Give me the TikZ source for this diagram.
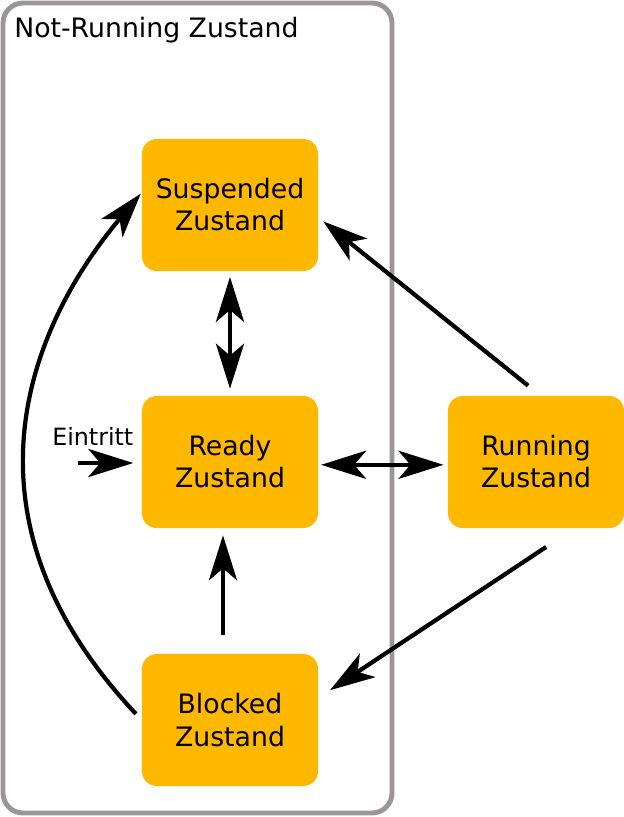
\documentclass[tikz,border=0pt]{standalone}
\usepackage{fontspec}
\setmainfont{DejaVu Sans}
\usetikzlibrary{positioning, arrows.meta, calc}
\definecolor{zorange}{HTML}{FFB800}
\definecolor{zgray}{HTML}{9A9696}
\definecolor{zblack}{HTML}{000000}

\begin{document}
\begin{tikzpicture}[x=0.025cm, y=-0.025cm,
    zbox/.style={fill=zorange, rounded corners=0.37cm, minimum width=4.4cm,
      minimum height=3.3cm, align=center, font=\fontsize{19}{22.8}\selectfont},
    zarrow/.style={zblack, line width=3pt,
      -{Stealth[length=32pt, width=20pt, inset=8.5pt]}},
    zboth/.style={zarrow, {Stealth[length=32pt, width=20pt, inset=8.5pt]}-{Stealth[length=32pt, width=20pt, inset=8.5pt]}}]
    \useasboundingbox (0,0) rectangle (624,817);
    % Rahmen: Not-Running
    \draw[zgray, line width=3.5pt, rounded corners=0.5cm] (3,3) rectangle (392,813);
    \node[anchor=base west, inner sep=0pt, font=\fontsize{19}{22.8}\selectfont]
      (title) at (14,37) {Not-Running Zustand};
    % Zustaende
    \node[zbox] (susp) at (230,205) {Suspended\\Zustand};
    \node[zbox] (ready) at (230,462) {Ready\\Zustand};
    \node[zbox] (blocked) at (230,720) {Blocked\\Zustand};
    \node[zbox] (running) at (536,462) {Running\\Zustand};
    % Eintritt
    \node[anchor=base west, inner sep=0pt, font=\fontsize{16.9}{20}\selectfont]
      (entry) at (52,445) {Eintritt};
    \coordinate (entrystart) at (78,463);
    % Uebergaenge
    \draw[zarrow, shorten >=6pt] (entrystart) -- (ready.west |- entrystart);
    \draw[zboth, shorten <=4pt, shorten >=5pt] (susp.south) -- (ready.north);
    \draw[zboth, shorten <=2pt, shorten >=3pt]
      ([yshift=-2pt]ready.east) -- ([yshift=-2pt]running.west);
    \draw[zarrow, shorten <=13pt, shorten >=5pt]
      ([xshift=-5pt]blocked.north) -- ([xshift=-5pt]ready.south);
    \draw[zarrow, shorten <=11.4pt, shorten >=4.5pt] (running.86) -- (susp.-8);
    \draw[zarrow, shorten <=24pt, shorten >=10pt] (running.-60) -- (blocked.14);
    \draw[zarrow, shorten <=6pt, shorten >=1pt]
      (blocked.west) .. controls +(-189,-201) and +(-116,138) .. (susp.172);
\end{tikzpicture}
\end{document}
